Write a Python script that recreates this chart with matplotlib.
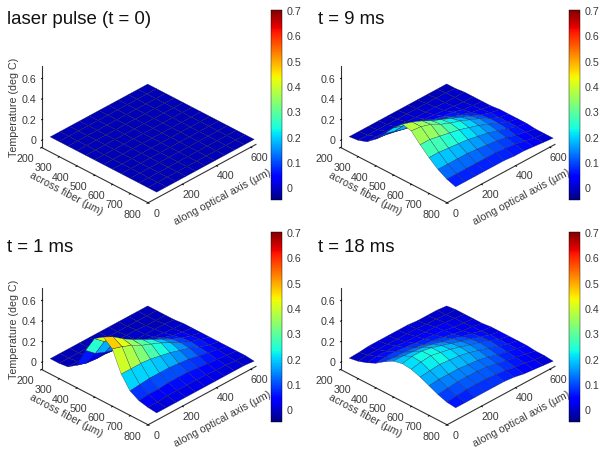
import matplotlib
matplotlib.use('Agg')
import matplotlib.pyplot as plt
import numpy as np
from mpl_toolkits.mplot3d import Axes3D, proj3d  # noqa

W, H = 605, 456

across = [200, 250, 300, 350, 400, 450, 500, 550, 600, 650, 700, 750, 800]
along = [50, 107, 164, 221, 278, 335, 392, 449, 506, 563, 620]

x_ticks = [200, 300, 400, 500, 600, 700, 800]
y_ticks = [0, 200, 400, 600]
z_ticks = [0, 0.2, 0.4, 0.6]
z_tick_labels = ['0', '0.2', '0.4', '0.6']
cb_ticks = [0, 0.1, 0.2, 0.3, 0.4, 0.5, 0.6, 0.7]
cb_tick_labels = ['0', '0.1', '0.2', '0.3', '0.4', '0.5', '0.6', '0.7']

titles = ['laser pulse (t = 0)', 't = 9 ms', 't = 1 ms', 't = 18 ms']

temp_0 = [[-0.012] * 13] * 11

temp_9 = [
    [-.01, 0, .03, .10, .20, .30, .38, .36, .27, .19, .12, .07, .04],
    [-.01, 0, .03, .09, .17, .27, .35, .35, .27, .19, .12, .07, .04],
    [-.01, 0, .03, .07, .14, .23, .31, .32, .25, .18, .12, .07, .04],
    [-.01, 0, .02, .06, .12, .19, .26, .27, .23, .17, .12, .07, .04],
    [-.01, 0, .02, .05, .10, .16, .22, .23, .21, .16, .11, .07, .04],
    [-.01, 0, .01, .04, .08, .13, .18, .20, .18, .14, .10, .07, .04],
    [-.01, 0, .01, .03, .06, .10, .14, .16, .15, .12, .09, .06, .03],
    [-.01, 0, .01, .02, .05, .07, .10, .12, .11, .09, .07, .05, .03],
    [-.01, 0, 0, .01, .02, .04, .06, .07, .07, .06, .04, .03, .02],
    [-.01, 0, 0, 0, .01, .02, .03, .03, .03, .03, .02, .01, .01],
    [-.01, -.01, 0, 0, 0, 0, .01, .01, .01, .01, 0, 0, 0],
]

temp_1 = [
    [-.01, -.01, 0, .06, .25, .41, .47, .40, .20, .08, .03, .01, 0],
    [-.01, -.01, 0, .03, .17, .33, .42, .37, .20, .09, .04, .01, 0],
    [-.01, -.01, 0, .02, .13, .27, .35, .33, .20, .10, .04, .02, 0],
    [-.01, -.01, 0, .02, .10, .22, .29, .28, .19, .10, .05, .02, 0],
    [-.01, -.01, 0, .01, .08, .18, .24, .24, .17, .10, .05, .02, 0],
    [-.01, -.01, 0, .01, .06, .14, .19, .20, .15, .09, .05, .02, 0],
    [-.01, -.01, 0, 0, .04, .09, .14, .15, .12, .08, .04, .02, 0],
    [-.01, -.01, 0, 0, .02, .06, .09, .10, .09, .06, .03, .01, 0],
    [-.01, -.01, -.01, 0, .01, .03, .05, .06, .05, .04, .02, .01, 0],
    [-.01, -.01, -.01, 0, 0, .01, .02, .03, .02, .02, .01, 0, 0],
    [-.01, -.01, -.01, -.01, 0, 0, 0, 0, 0, 0, 0, 0, -.01],
]

temp_18 = [
    [-.005, .01, .04, .08, .14, .19, .21, .20, .17, .13, .09, .06, .05],
    [0, .02, .05, .09, .13, .19, .23, .22, .18, .14, .10, .07, .05],
    [.01, .02, .05, .09, .13, .18, .23, .23, .19, .14, .11, .08, .05],
    [.01, .02, .05, .08, .12, .17, .21, .21, .18, .14, .11, .08, .05],
    [.01, .02, .04, .07, .10, .15, .18, .19, .17, .13, .11, .08, .05],
    [.01, .02, .04, .06, .09, .12, .15, .16, .15, .12, .10, .07, .05],
    [.01, .02, .03, .05, .07, .10, .12, .13, .12, .10, .08, .06, .04],
    [0, .01, .03, .04, .05, .07, .09, .10, .09, .07, .06, .04, .02],
    [0, .01, .02, .02, .03, .05, .06, .07, .06, .05, .04, .03, .01],
    [0, 0, .01, .01, .02, .02, .03, .03, .03, .03, .02, .01, 0],
    [-.01, 0, 0, 0, 0, .01, .01, .01, .01, .01, 0, 0, -.01],
]

temps = [temp_0, temp_9, temp_1, temp_18]
dx = [0, 299, 0, 299]
dy = [0, 0, 222, 222]
title_x = [7, 318, 7, 318]
title_y = [20, 20, 248, 248]
cb_x = [271, 569, 271, 569]
cb_y = [11, 11, 233, 233]
left_panel = [True, False, True, False]

plt.rcParams['font.family'] = ['Liberation Sans', 'DejaVu Sans']
text_col = '#3a3a3a'
line_col = '#333333'
fs = 7.7

fig = plt.figure(figsize=(W / 100, H / 100), dpi=100)
norm = plt.Normalize(-0.05, 0.7)
cmap = plt.get_cmap('jet')
X, Y = np.meshgrid(across, along)


def rect(x0, y0, w, h):
    return [x0 / W, 1 - (y0 + h) / H, w / W, h / H]


def label_3d(ax, x, y, z, s, ha='center'):
    # project by hand so the label is plain 2D text in the axes
    px, py, _ = proj3d.proj_transform(x, y, z, ax.get_proj())
    ax.text2D(px, py, s, transform=ax.transData, fontsize=fs, color=text_col,
              ha=ha, va='center')


for k in range(4):
    cx = 145.5 + dx[k]
    cy = 109.6 + dy[k]
    size = 240
    ax = fig.add_axes(rect(cx - size / 2, cy - size / 2, size, size), projection='3d')
    ax.set_proj_type('ortho')
    ax.view_init(elev=32, azim=-45.6)
    ax.set_box_aspect((148, 153, 95), zoom=0.95)
    ax.patch.set_alpha(0)

    Z = np.array(temps[k])
    ax.plot_surface(X, Y, Z, facecolors=cmap(norm(Z)), rstride=1, cstride=1,
                    shade=False, edgecolor='#1a1a30', linewidth=0.2)

    ax.set_xlim(200, 800)
    ax.set_ylim(0, 630)
    ax.set_zlim(-0.07, 0.72)
    ax.set_xticks(x_ticks)
    ax.set_yticks(y_ticks)
    ax.set_zticks(z_ticks)
    ax.grid(False)
    for a in (ax.xaxis, ax.yaxis, ax.zaxis):
        a.set_pane_color((1, 1, 1, 0))
        a.line.set_color(line_col)
        a.line.set_linewidth(0.8)
        a._axinfo['tick']['inward_factor'] = 0.12
        a._axinfo['tick']['outward_factor'] = 0.0
        a._axinfo['tick']['linewidth'] = {True: 0.7, False: 0.5}
        a._axinfo['tick']['color'] = line_col
        for tick in a.get_major_ticks():
            tick.label1.set_visible(False)
            tick.label2.set_visible(False)
    ax.zaxis._axinfo['tick']['inward_factor'] = 0.0
    ax.zaxis._axinfo['tick']['outward_factor'] = 0.12
    ax.zaxis.set_ticks_position('lower')

    # tick labels placed by hand, the native ones do not sit like the original
    for t in x_ticks:
        label_3d(ax, t, -94, -0.09, str(t))
    for t in y_ticks:
        label_3d(ax, 850, t, -0.12, str(t))
    for t, lab in zip(z_ticks, z_tick_labels):
        label_3d(ax, 186, -14, t, lab, ha='right')

    fig.text(title_x[k] / W, 1 - title_y[k] / H, titles[k], fontsize=13.4,
             color='#111111', ha='left', va='center')
    fig.text((65.7 + dx[k]) / W, 1 - (194 + dy[k]) / H, 'across fiber (µm)', fontsize=fs,
             color=text_col, rotation=-28, ha='center', va='center', rotation_mode='anchor')
    fig.text((222 + dx[k]) / W, 1 - (197 + dy[k]) / H, 'along optical axis (µm)', fontsize=fs,
             color=text_col, rotation=28, ha='center', va='center', rotation_mode='anchor')
    if left_panel[k]:
        fig.text(14 / W, 1 - (107 + dy[k]) / H, 'Temperature (deg C)', fontsize=fs,
                 color=text_col, rotation=90, ha='center', va='center')

    cax = fig.add_axes(rect(cb_x[k], cb_y[k], 11, 190))
    sm = plt.cm.ScalarMappable(norm=norm, cmap=cmap)
    cb = fig.colorbar(sm, cax=cax, ticks=cb_ticks)
    cb.ax.set_yticklabels(cb_tick_labels)
    cb.ax.tick_params(length=0, labelsize=fs, labelcolor=text_col, pad=3)
    cb.outline.set_linewidth(0.3)

fig.savefig('out.png', dpi=100)
